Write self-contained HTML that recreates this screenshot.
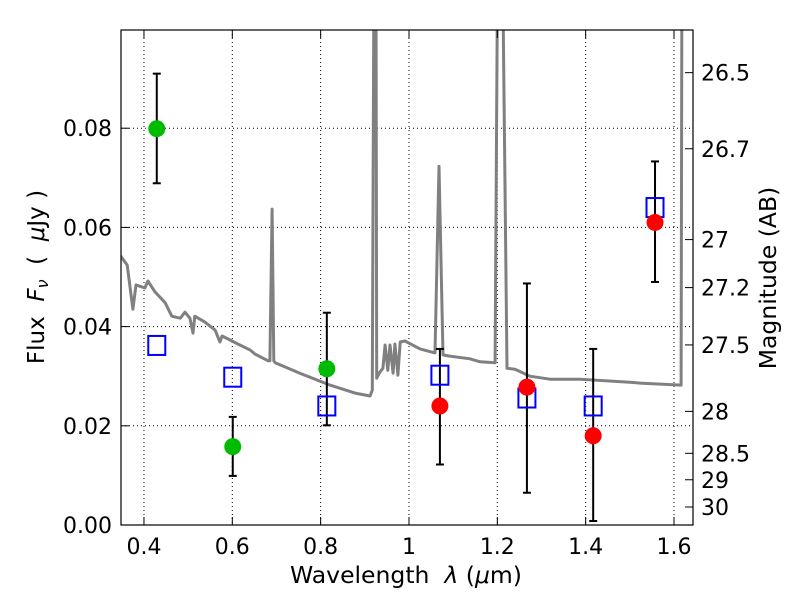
<!DOCTYPE html>
<html><head><meta charset="utf-8"><style>
body{margin:0;background:#fff}
svg{display:block;font-family:"DejaVu Sans","Liberation Sans",sans-serif}
</style></head><body>
<svg id="chart" width="800" height="600">
<rect x="0" y="0" width="800" height="600" fill="#fff"/>
<defs><clipPath id="clip"><rect x="121" y="30" width="572" height="495"/></clipPath></defs>
<g id="grid"></g>
<g id="spec" clip-path="url(#clip)"></g>
<g id="marks"></g>
<rect x="121" y="30" width="572" height="495" fill="none" stroke="#000" stroke-width="1.2"/>
<g id="axes"></g>
<text x="406" y="583" font-size="23.5" text-anchor="middle">Wavelength&#160;&#160;<tspan font-style="italic">λ</tspan> (<tspan font-style="italic">μ</tspan>m)</text>
<text transform="translate(44,277) rotate(-90)" font-size="23" text-anchor="middle">Flux&#160;&#160;<tspan font-style="italic">F</tspan><tspan font-style="italic" font-size="16" dy="4">ν</tspan><tspan dy="-4">&#160;&#160;(&#160;&#160;</tspan><tspan font-style="italic">μ</tspan>Jy )</text>
<text transform="translate(776,278) rotate(-90)" font-size="23.5" text-anchor="middle">Magnitude (AB)</text>
</svg>
<script>
const xTicks=[0.4,0.6,0.8,1.0,1.2,1.4,1.6];
const xTickLabels=["0.4","0.6","0.8","1","1.2","1.4","1.6"];
const yTicks=[0,0.02,0.04,0.06,0.08];
const yTickLabels=["0.00","0.02","0.04","0.06","0.08"];
const magTicks=[26.5,26.7,27,27.2,27.5,28,28.5,29,30];
const specLam=[0.346,0.362,0.375,0.382,0.402,0.409,0.425,0.448,0.463,0.482,0.493,0.504,0.511,0.515,0.538,0.561,0.572,0.577,0.595,0.617,0.640,0.651,0.681,0.685,0.690,0.694,0.697,0.753,0.821,0.878,0.912,0.917,0.921,0.925,0.927,0.934,0.941,0.946,0.952,0.957,0.964,0.968,0.975,0.980,0.991,1.025,1.059,1.068,1.077,1.088,1.138,1.161,1.195,1.201,1.211,1.222,1.240,1.274,1.319,1.387,1.500,1.523,1.616,1.618];
const specFlux=[0.0544,0.0524,0.0435,0.0484,0.0478,0.0492,0.0470,0.0448,0.0421,0.0417,0.0429,0.0417,0.0387,0.0421,0.0409,0.0393,0.0369,0.0381,0.0373,0.0363,0.0353,0.0345,0.0331,0.0331,0.0637,0.0331,0.0327,0.0306,0.0282,0.0266,0.0260,0.0272,0.12,0.12,0.0296,0.0308,0.0316,0.0363,0.0312,0.0363,0.0306,0.0365,0.0302,0.0369,0.0371,0.0355,0.0347,0.0723,0.0343,0.0341,0.0335,0.0329,0.0327,0.12,0.12,0.0316,0.0314,0.0300,0.0294,0.0294,0.0288,0.0286,0.0282,0.12];
const greenLam=[0.429,0.601,0.814];
const greenFlux=[0.0799,0.0158,0.0315];
const squareLam=[0.429,0.601,0.814,1.070,1.267,1.417,1.557];
const squareFlux=[0.0362,0.0298,0.0240,0.0302,0.0256,0.0240,0.0640];
const redLam=[1.070,1.267,1.417,1.557];
const redFlux=[0.0240,0.0278,0.0180,0.0610];
const errLam=[0.429,0.601,0.814,1.070,1.267,1.417,1.557];
const errLo=[0.0689,0.0099,0.0201,0.0122,0.0065,0.0008,0.0490];
const errHi=[0.0910,0.0218,0.0428,0.0355,0.0487,0.0355,0.0733];
const X0=121,X1=693,Y0=525,Y1=30,LMIN=0.348,LMAX=1.643,FMIN=0,FMAX=0.0998;
const sx=l=>X0+(l-LMIN)/(LMAX-LMIN)*(X1-X0);
const sy=f=>Y0-(f-FMIN)/(FMAX-FMIN)*(Y0-Y1);
const NS="http://www.w3.org/2000/svg";
function mk(tag,attrs,parent){const e=document.createElementNS(NS,tag);for(const k in attrs)e.setAttribute(k,attrs[k]);parent.appendChild(e);return e;}
const grid=document.getElementById('grid'),axes=document.getElementById('axes'),spec=document.getElementById('spec'),marks=document.getElementById('marks');
xTicks.forEach((t,i)=>{const x=sx(t);
 const g=mk('line',{x1:x,x2:x,y1:Y1,y2:Y0,stroke:'#000','stroke-width':1,'stroke-dasharray':'1,3'},grid);
 
 
 mk('line',{x1:x,x2:x,y1:Y0,y2:Y0-8,stroke:'#000'},axes);
 mk('line',{x1:x,x2:x,y1:Y1,y2:Y1+8,stroke:'#000'},axes);
 const tx=mk('text',{x:x,y:554,'font-size':22,'text-anchor':'middle'},axes);tx.textContent=xTickLabels[i];
 
 
});
yTicks.forEach((t,i)=>{const y=sy(t);
 if(i>0){const g=mk('line',{x1:X0,x2:X1,y1:y,y2:y,stroke:'#000','stroke-width':1,'stroke-dasharray':'1,3'},grid);
 
 }
 mk('line',{x1:X0,x2:X0+8,y1:y,y2:y,stroke:'#000'},axes);
 const tx=mk('text',{x:112,y:y+8,'font-size':22,'text-anchor':'end'},axes);tx.textContent=yTickLabels[i];
 
 
});
magTicks.forEach(m=>{const f=Math.pow(10,(23.9-m)/2.5);const y=sy(f);
 mk('line',{x1:X1,x2:X1-8,y1:y,y2:y,stroke:'#000'},axes);
 const tx=mk('text',{x:701,y:y+8,'font-size':22},axes);tx.textContent=String(m);
 
 
});
const d=specLam.map((l,i)=>(i?'L':'M')+sx(l).toFixed(1)+' '+sy(specFlux[i]).toFixed(1)).join(' ');
const p=mk('path',{d:d,fill:'none',stroke:'#808080','stroke-width':3,'stroke-linejoin':'round'},spec);


errLam.forEach((l,i)=>{const x=sx(l),a=sy(errLo[i]),b=sy(errHi[i]);
 const g=mk('g',{},marks);
 
 
 mk('line',{x1:x,x2:x,y1:a,y2:b,stroke:'#000','stroke-width':2},g);
 mk('line',{x1:x-4,x2:x+4,y1:a,y2:a,stroke:'#000','stroke-width':2},g);
 mk('line',{x1:x-4,x2:x+4,y1:b,y2:b,stroke:'#000','stroke-width':2},g);
});
squareLam.forEach((l,i)=>{const r=mk('rect',{x:sx(l)-8.5,y:sy(squareFlux[i])-9.5,width:17,height:19,fill:'none',stroke:'#0000ff','stroke-width':2},marks);
 
 });
greenLam.forEach((l,i)=>{const c=mk('circle',{cx:sx(l),cy:sy(greenFlux[i]),r:8.5,fill:'#00bb00'},marks);
 
 });
redLam.forEach((l,i)=>{const c=mk('circle',{cx:sx(l),cy:sy(redFlux[i]),r:8.5,fill:'#ff0000'},marks);
 
 });
</script>
</body></html>
